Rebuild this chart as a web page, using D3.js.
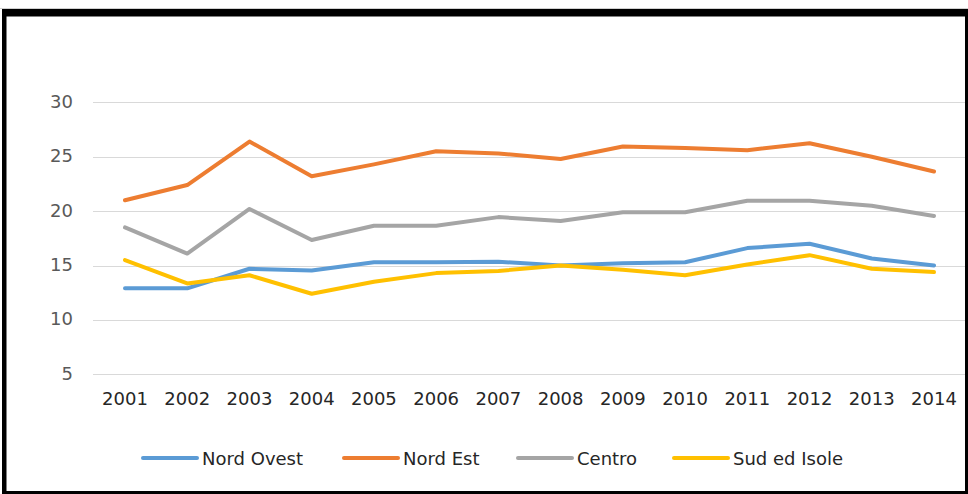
<!DOCTYPE html>
<html lang="it">
<head>
<meta charset="utf-8">
<title>Nord Ovest, Nord Est, Centro, Sud ed Isole</title>
<script src="https://cdn.jsdelivr.net/npm/d3@7"></script>
<style>
  body { margin: 0; background: #fff; }
</style>
</head>
<body>
<div class="chart"></div>
<script>
const years = ["2001", "2002", "2003", "2004", "2005", "2006", "2007",
               "2008", "2009", "2010", "2011", "2012", "2013", "2014"];
const nord_ovest = [12.9, 12.9, 14.7, 14.55, 15.3, 15.3, 15.35, 15.0, 15.2, 15.3, 16.6, 17.0, 15.65, 15.0];
const nord_est = [21.0, 22.4, 26.4, 23.2, 24.3, 25.5, 25.3, 24.8, 25.95, 25.8, 25.6, 26.25, 25.0, 23.65];
const centro = [18.5, 16.1, 20.2, 17.35, 18.65, 18.65, 19.45, 19.1, 19.9, 19.9, 20.95, 20.95, 20.5, 19.55];
const sud_isole = [15.5, 13.35, 14.1, 12.4, 13.5, 14.3, 14.5, 15.0, 14.6, 14.1, 15.1, 15.95, 14.7, 14.4];
const y_ticks = [5, 10, 15, 20, 25, 30];

const series = [
    {name: "Nord Ovest", values: nord_ovest, color: "#5b9bd5"},
    {name: "Nord Est", values: nord_est, color: "#ed7d31"},
    {name: "Centro", values: centro, color: "#a5a5a5"},
    {name: "Sud ed Isole", values: sud_isole, color: "#ffc000"},
];

const W = 968, H = 494;

svg = d3.select(".chart")
    .append("svg")
    .attr("width", W)
    .attr("height", H);

// frame
svg.append("line")
    .attr("x1", 0).attr("x2", W)
    .attr("y1", 8.5).attr("y2", 8.5)
    .attr("stroke", "#d0d0d0");
svg.append("rect")
    .attr("x", 2).attr("y", 9)
    .attr("width", W - 2).attr("height", H - 9)
    .attr("fill", "black");
svg.append("rect")
    .attr("x", 6.5).attr("y", 16.5)
    .attr("width", 965 - 6.5).attr("height", 491 - 16.5)
    .attr("fill", "white");

x = d3.scalePoint()
    .domain(years)
    .range([125, 934]);

y = d3.scaleLinear()
    .domain([0, 30])
    .range([428.6, 102.4]);

// gridlines
svg.append("g")
    .selectAll("line")
    .data(y_ticks)
    .join("line")
    .attr("x1", 93)
    .attr("x2", 965)
    .attr("y1", d => Math.round(y(d)) + 0.5)
    .attr("y2", d => Math.round(y(d)) + 0.5)
    .attr("stroke", "#d9d9d9")
    .attr("stroke-width", 1.2);

// y labels
svg.append("g")
    .selectAll("text")
    .data(y_ticks)
    .join("text")
    .attr("x", 73)
    .attr("y", d => y(d) - 1)
    .attr("text-anchor", "end")
    .attr("dominant-baseline", "central")
    .attr("font-family", "DejaVu Sans, sans-serif")
    .attr("font-size", "18px")
    .attr("fill", "#595959")
    .text(d => d);

// x labels
svg.append("g")
    .selectAll("text")
    .data(years)
    .join("text")
    .attr("x", d => x(d))
    .attr("y", 398)
    .attr("text-anchor", "middle")
    .attr("dominant-baseline", "central")
    .attr("font-family", "DejaVu Sans, sans-serif")
    .attr("font-size", "18px")
    .attr("fill", "#262626")
    .text(d => d);

line = d3.line()
    .x((d, i) => x(years[i]))
    .y(d => y(d));

svg.append("g")
    .selectAll("path")
    .data(series)
    .join("path")
    .attr("fill", "none")
    .attr("stroke", d => d.color)
    .attr("stroke-width", 4)
    .attr("stroke-linejoin", "round")
    .attr("stroke-linecap", "round")
    .attr("d", d => line(d.values));

// legend
legend_x = [142, 343, 517, 673];
legend = svg.append("g")
    .selectAll("g")
    .data(series)
    .join("g")
    .attr("transform", (d, i) => `translate(${legend_x[i]}, 458)`);

legend.append("line")
    .attr("x1", 1).attr("x2", 55)
    .attr("y1", 0).attr("y2", 0)
    .attr("stroke", d => d.color)
    .attr("stroke-width", 4)
    .attr("stroke-linecap", "round");

legend.append("text")
    .attr("x", 60)
    .attr("y", 0)
    .attr("dominant-baseline", "central")
    .attr("font-family", "DejaVu Sans, sans-serif")
    .attr("font-size", "18px")
    .attr("fill", "#262626")
    .text(d => d.name);
</script>
</body>
</html>
